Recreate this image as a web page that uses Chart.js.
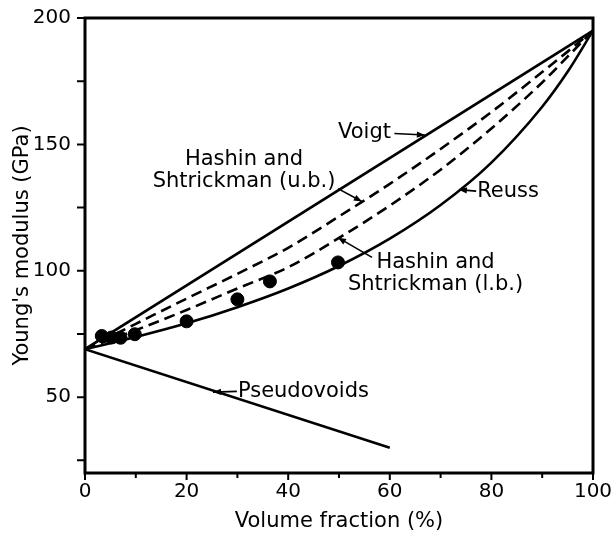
<!DOCTYPE html>
<html><head><meta charset="utf-8">
<script src="https://cdn.jsdelivr.net/npm/chart.js@4/dist/chart.umd.min.js"></script>
<style>html,body{margin:0;padding:0;background:#fff}#wrap{width:613px;height:538px}</style>
</head><body><div id="wrap"><canvas id="c" width="613" height="538"></canvas></div>
<script>
// ---- data ----
const voigtX = [0, 100];
const voigtY = [69, 195];
const fractionX = [0, 10, 20, 30, 40, 50, 60, 70, 80, 90, 95, 100];
const reussY   = [69, 73.8, 79.2, 85.6, 93.0, 101.9, 112.7, 126.0, 142.8, 164.9, 178.7, 195];
const hsUpperY = [69, 79.0, 89.0, 98.8, 109.1, 121.5, 134.4, 148.2, 162.8, 178.6, 186.7, 195];
const hsLowerY = [69, 76.5, 84.5, 93.0, 101.4, 113.0, 125.8, 140.0, 156.3, 174.5, 184.7, 195];
const pseudoX = [0, 60];
const pseudoY = [69, 30];
const expX = [3.3, 5.2, 7.0, 9.8, 20, 30, 36.4, 49.8];
const expY = [74.2, 73.6, 73.5, 74.9, 80, 88.7, 95.8, 103.3];
const xTickValues = [0, 20, 40, 60, 80, 100];
const xMinorTicks = [10, 30, 50, 70, 90];
const yTickValues = [50, 100, 150, 200];
const yMinorTicks = [25, 75, 125, 175];
const xTitle = 'Volume fraction (%)';
const yTitle = "Young's modulus (GPa)";
// annotation labels: text lines, anchor (data units), alignment, leader from/to (data units)
const labelTexts  = [['Voigt'], ['Hashin and', 'Shtrickman (u.b.)'], ['Reuss'], ['Hashin and', 'Shtrickman (l.b.)'], ['Pseudovoids']];
const labelAnchor = [[49.8, 154.6], [31.3, 144.1], [77.2, 131.3], [69.0, 103.3], [30.1, 52.3]];
const labelAlign  = ['left', 'center', 'left', 'center', 'left'];
const leaderFrom  = [[60.9, 154.3], [49.8, 132.5], [77.0, 131.5], [56.5, 105.3], [29.9, 52.3]];
const leaderTo    = [[66.9, 153.7], [54.5, 127.4], [73.6, 132.1], [49.8, 113.1], [25.2, 52.0]];

const FONT = 'DejaVu Sans';
const pts = (xs, ys) => xs.map((v, i) => ({x: v, y: ys[i]}));
const lineDs = (xs, ys, dash) => ({
  data: pts(xs, ys), showLine: true, borderColor: '#000', borderWidth: 2.6,
  borderDash: dash || [], pointRadius: 0, fill: false, cubicInterpolationMode: 'monotone'
});

function arrow(ctx, x1, y1, x2, y2) {
  ctx.beginPath(); ctx.moveTo(x1, y1); ctx.lineTo(x2, y2); ctx.stroke();
  const ang = Math.atan2(y2 - y1, x2 - x1), L = 8, W = 3.2;
  ctx.beginPath();
  ctx.moveTo(x2, y2);
  ctx.lineTo(x2 - L * Math.cos(ang) + W * Math.sin(ang), y2 - L * Math.sin(ang) - W * Math.cos(ang));
  ctx.lineTo(x2 - L * Math.cos(ang) - W * Math.sin(ang), y2 - L * Math.sin(ang) + W * Math.cos(ang));
  ctx.closePath(); ctx.fill();
}

const overlay = {
  id: 'overlay',
  afterDatasetsDraw(chart) {
    const {ctx, chartArea: a, scales: {x, y}} = chart;
    ctx.save();
    ctx.strokeStyle = '#000'; ctx.fillStyle = '#000';
    ctx.lineWidth = 3;
    ctx.strokeRect(a.left, a.top, a.right - a.left, a.bottom - a.top);
    ctx.lineWidth = 2;
    ctx.beginPath();
    yTickValues.concat(yMinorTicks).forEach(v => { const p = y.getPixelForValue(v); ctx.moveTo(a.left, p); ctx.lineTo(a.left - 8, p); });
    xTickValues.forEach(v => { const p = x.getPixelForValue(v); ctx.moveTo(p, a.bottom); ctx.lineTo(p, a.bottom + 7); });
    xMinorTicks.forEach(v => { const p = x.getPixelForValue(v); ctx.moveTo(p, a.bottom); ctx.lineTo(p, a.bottom + 5); });
    ctx.stroke();
    ctx.font = '21px "' + FONT + '"';
    ctx.textBaseline = 'middle';
    labelTexts.forEach((lines, i) => {
      ctx.textAlign = labelAlign[i];
      const px = x.getPixelForValue(labelAnchor[i][0]);
      const py = y.getPixelForValue(labelAnchor[i][1]);
      lines.forEach((t, k) => ctx.fillText(t, px, py + k * 22));
      ctx.lineWidth = 1.6;
      arrow(ctx, x.getPixelForValue(leaderFrom[i][0]), y.getPixelForValue(leaderFrom[i][1]),
                 x.getPixelForValue(leaderTo[i][0]), y.getPixelForValue(leaderTo[i][1]));
    });
    ctx.restore();
  }
};

new Chart(document.getElementById('c'), {
  type: 'scatter',
  data: {
    datasets: [
      lineDs(voigtX, voigtY),
      lineDs(fractionX, reussY),
      lineDs(fractionX, hsUpperY, [11, 6]),
      lineDs(fractionX, hsLowerY, [11, 6]),
      lineDs(pseudoX, pseudoY),
      { data: pts(expX, expY), backgroundColor: '#000', borderColor: '#000', pointRadius: 6.5, showLine: false }
    ]
  },
  options: {
    responsive: false, animation: false, devicePixelRatio: 1,
    layout: { padding: { top: 18, right: 20, left: 0, bottom: 0 } },
    plugins: { legend: { display: false }, tooltip: { enabled: false } },
    scales: {
      x: {
        type: 'linear', min: 0, max: 100,
        afterBuildTicks: s => { s.ticks = xTickValues.map(v => ({value: v})); },
        afterFit: s => { s.height = 65; s.paddingLeft = 0; s.paddingRight = 0; },
        grid: { display: false, drawTicks: false }, border: { display: false },
        ticks: { color: '#000', font: { family: FONT, size: 20 }, padding: 7, maxRotation: 0 },
        title: { display: true, text: xTitle, color: '#000', font: { family: FONT, size: 21 }, padding: { top: 4, bottom: 4 } }
      },
      y: {
        type: 'linear', min: 20, max: 200,
        afterBuildTicks: s => { s.ticks = yTickValues.map(v => ({value: v})); },
        afterFit: s => { s.width = 85; s.paddingTop = 0; s.paddingBottom = 0; },
        grid: { display: false, drawTicks: false }, border: { display: false },
        ticks: { color: '#000', font: { family: FONT, size: 20 }, padding: 14 },
        title: { display: true, text: yTitle, color: '#000', font: { family: FONT, size: 21 }, padding: { top: 10, bottom: 0 } }
      }
    }
  },
  plugins: [overlay]
});
</script>
</body></html>
